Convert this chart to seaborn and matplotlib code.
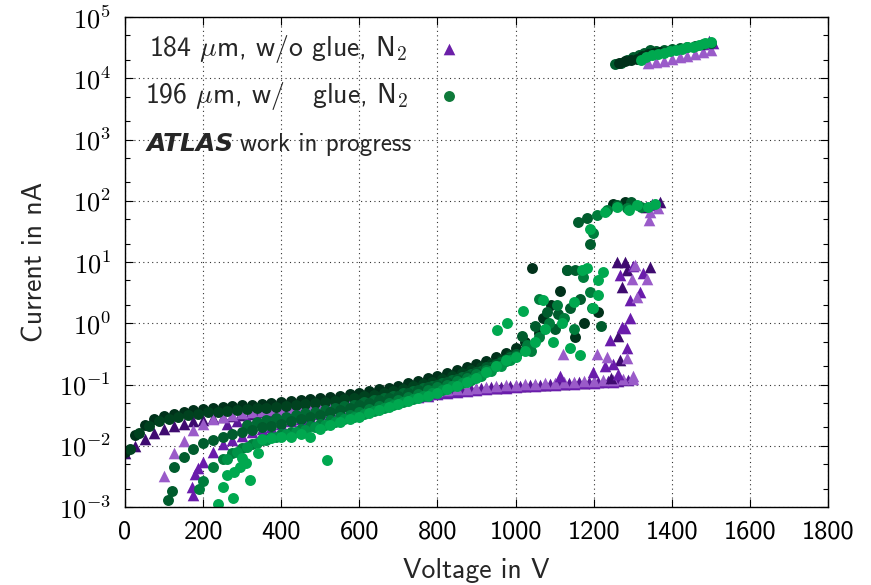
import numpy as np
import seaborn as sns
import matplotlib.pyplot as plt
from matplotlib.ticker import LogLocator, MultipleLocator, NullFormatter, FuncFormatter

# voltage grids (V) used by the main IV runs
V25 = [0, 25, 50, 75, 100, 125, 150, 175, 200, 225, 250, 275, 300, 325, 350, 375,
       400, 425, 450, 475, 500, 525, 550, 575, 600, 625, 650, 675, 700, 725, 750, 775,
       800, 825, 850, 875, 900, 925, 950, 975, 1000, 1025, 1050, 1075, 1100, 1125,
       1150, 1175, 1200, 1225, 1250, 1275, 1300]
VOFF = [12, 37, 62, 87, 112, 137, 162, 187, 212, 237, 262, 287, 312, 337, 362, 387,
        412, 437, 462, 487, 512, 537, 562, 587, 612, 637, 662, 687, 712, 737, 762, 787,
        812, 837, 862, 887, 912, 937, 962, 987, 1012, 1037, 1062, 1087, 1112, 1137,
        1162, 1187, 1212, 1237, 1262, 1287]

# ---- 184 um, w/o glue (triangles) ----
p1_v = V25[0:49]
p1_i = [0.0075, 0.010, 0.013, 0.016, 0.019, 0.021, 0.023, 0.025, 0.026, 0.028,
        0.029, 0.031, 0.032, 0.033, 0.035, 0.036, 0.037, 0.039, 0.040, 0.042,
        0.043, 0.045, 0.047, 0.049, 0.051, 0.053, 0.055, 0.058, 0.060, 0.063,
        0.066, 0.069, 0.072, 0.075, 0.078, 0.081, 0.084, 0.087, 0.089, 0.091,
        0.093, 0.095, 0.097, 0.099, 0.101, 0.103, 0.105, 0.107, 0.109]
p2_v = V25[4:53]
p2_i = [0.0032, 0.0075, 0.012, 0.018, 0.023, 0.027, 0.030, 0.032, 0.034, 0.035,
        0.037, 0.038, 0.039, 0.041, 0.042, 0.044, 0.046, 0.048, 0.050, 0.052,
        0.054, 0.056, 0.059, 0.062, 0.065, 0.068, 0.071, 0.074, 0.077, 0.080,
        0.083, 0.086, 0.089, 0.092, 0.095, 0.097, 0.099, 0.101, 0.103, 0.105,
        0.107, 0.109, 0.111, 0.113, 0.115, 0.117, 0.119, 0.121, 0.123]
p3_v = V25[7:51]
p3_i = [0.0016, 0.0055, 0.0080, 0.0105, 0.0125, 0.0145, 0.0165, 0.0185, 0.0205, 0.0225,
        0.025, 0.027, 0.030, 0.033, 0.036, 0.039, 0.042, 0.045, 0.048, 0.051,
        0.054, 0.057, 0.060, 0.063, 0.066, 0.069, 0.072, 0.075, 0.078, 0.081,
        0.084, 0.087, 0.089, 0.091, 0.093, 0.095, 0.097, 0.099, 0.101, 0.103,
        0.105, 0.107, 0.109, 0.111]
p3_extra_v = [172, 180, 188]
p3_extra_i = [0.0021, 0.0034, 0.0044]
p4_v = VOFF[10:52]
p4_i = [0.023, 0.025, 0.027, 0.029, 0.031, 0.033, 0.035, 0.037, 0.039, 0.041,
        0.043, 0.045, 0.047, 0.049, 0.051, 0.054, 0.057, 0.060, 0.063, 0.066,
        0.069, 0.072, 0.075, 0.078, 0.081, 0.084, 0.087, 0.090, 0.092, 0.094,
        0.096, 0.098, 0.100, 0.102, 0.104, 0.106, 0.108, 0.110, 0.112, 0.114,
        0.116, 0.118]

# breakdown region, by shade
pbd_dark_v = [1267, 1262, 1272, 1285, 1344, 1259, 1280, 1245, 1335, 1370]
pbd_dark_i = [0.25, 0.63, 3.9, 7.5, 8.2, 10.0, 10.0, 0.13, 80, 95]
pbd_mid_v = [1114, 1198, 1250, 1242, 1272, 1285, 1293, 1293, 1318, 1300, 1326, 1267, 1262, 1230, 1280, 1350, 1357]
pbd_mid_i = [0.14, 0.16, 0.22, 0.53, 0.87, 0.39, 1.2, 2.4, 3.2, 8.5, 6.6, 6.2, 0.15, 0.20, 0.83, 90, 85]
pbd_light_v = [1121, 1208, 1234, 1285, 1311, 1298, 1336, 1305, 1300, 1342, 1365, 1345]
pbd_light_i = [0.32, 0.32, 0.28, 0.27, 2.7, 5.2, 5.2, 9.0, 0.14, 48, 76, 65]

# high current run
pt_light_v = [1340, 1360, 1380, 1400, 1420, 1440, 1460, 1480, 1500]
pt_light_i = [1.75e4, 1.85e4, 1.95e4, 2.05e4, 2.2e4, 2.35e4, 2.5e4, 2.7e4, 2.9e4]
pt_dark_v = [1480, 1495, 1505]
pt_dark_i = [3.6e4, 4.0e4, 3.7e4]

# ---- 196 um, w/ glue (circles) ----
g1_v = V25[0:41]
g1_i = [0.0078, 0.015, 0.022, 0.027, 0.031, 0.033, 0.036, 0.038, 0.040, 0.041,
        0.043, 0.044, 0.046, 0.047, 0.048, 0.050, 0.051, 0.053, 0.055, 0.057,
        0.060, 0.062, 0.065, 0.069, 0.074, 0.078, 0.083, 0.089, 0.096, 0.105,
        0.115, 0.127, 0.14, 0.155, 0.17, 0.19, 0.215, 0.245, 0.28, 0.33, 0.40]
g5_v = VOFF[0:40]
g5_i = [0.009, 0.016, 0.021, 0.025, 0.027, 0.030, 0.032, 0.033, 0.035, 0.036,
        0.037, 0.039, 0.040, 0.041, 0.042, 0.043, 0.045, 0.046, 0.048, 0.050,
        0.052, 0.054, 0.057, 0.060, 0.064, 0.068, 0.073, 0.078, 0.085, 0.093,
        0.102, 0.112, 0.124, 0.138, 0.152, 0.170, 0.192, 0.22, 0.25, 0.30]
g7_v = VOFF[12:40]
g7_i = [0.022, 0.024, 0.026, 0.028, 0.030, 0.032, 0.034, 0.036, 0.038, 0.041,
        0.044, 0.047, 0.051, 0.055, 0.060, 0.066, 0.072, 0.079, 0.087, 0.096,
        0.106, 0.118, 0.132, 0.148, 0.168, 0.195, 0.23, 0.28]
g2_v = [110, 120] + V25[5:41]
g2_i = [0.0013, 0.0018,
        0.0045, 0.0065, 0.0088, 0.011, 0.0125, 0.014, 0.0155, 0.017, 0.018, 0.020,
        0.021, 0.023, 0.025, 0.027, 0.029, 0.032, 0.035, 0.038, 0.042, 0.046,
        0.050, 0.055, 0.060, 0.066, 0.072, 0.080, 0.090, 0.10, 0.11, 0.125,
        0.14, 0.16, 0.19, 0.22, 0.26, 0.32]
g3_v = [190] + V25[8:41]
g3_i = [0.0020,
        0.0027, 0.0045, 0.0060, 0.0076, 0.0092, 0.0108, 0.0125, 0.014, 0.0155, 0.017,
        0.019, 0.021, 0.023, 0.026, 0.029, 0.032, 0.036, 0.040, 0.045, 0.050,
        0.056, 0.063, 0.071, 0.080, 0.090, 0.10, 0.115, 0.13, 0.15, 0.17,
        0.20, 0.24, 0.29]
g6_v = VOFF[10:40]
g6_i = [0.0060, 0.0078, 0.0095, 0.011, 0.0125, 0.014, 0.0155, 0.017, 0.018, 0.020,
        0.022, 0.024, 0.027, 0.030, 0.033, 0.037, 0.041, 0.046, 0.052, 0.058,
        0.065, 0.073, 0.082, 0.093, 0.105, 0.12, 0.14, 0.165, 0.20, 0.25]
g4_v = [238, 276, 250, 262, 294, 320, 300, 340, 280, 310, 517] + V25[14:41]
g4_i = [0.0011, 0.0014, 0.0021, 0.0033, 0.0045, 0.0028, 0.0063, 0.0076, 0.0038, 0.0052, 0.0058,
        0.013, 0.0135, 0.0137, 0.014, 0.0155, 0.014, 0.019, 0.022, 0.024, 0.027,
        0.030, 0.034, 0.038, 0.043, 0.048, 0.054, 0.060, 0.066, 0.072, 0.083,
        0.095, 0.11, 0.13, 0.16, 0.20, 0.25, 0.28]

# breakdown region, by shade
gbd1_v = [1025, 1042, 1060, 1070, 1090, 1114, 1131, 1152, 1175, 1210, 1250, 1280]
gbd1_i = [0.5, 8.0, 0.7, 1.2, 2.0, 3.4, 7.3, 0.6, 1.0, 1.5, 90, 95]
gbd2_v = [1016, 1050, 1080, 1100, 1110, 1131, 1140, 1152, 1165, 1160, 1183, 1190, 1220, 1260, 1295]
gbd2_i = [0.63, 0.9, 1.5, 0.8, 1.4, 7.3, 1.8, 7.3, 2.5, 45, 53, 20, 0.9, 85, 95]
gbd3_v = [1030, 1040, 1060, 1060, 1085, 1105, 1125, 1150, 1172, 1190, 1195, 1198, 1208, 1234, 1285, 1320]
gbd3_i = [0.45, 0.35, 0.6, 2.5, 1.0, 2.0, 1.2, 0.8, 5.6, 3.3, 1.8, 30, 58, 70, 75, 80]
gbd4_v = [952, 977, 1019, 1070, 1025, 1050, 1075, 1095, 1120, 1140, 1150, 1165, 1170, 1183,
          1198, 1211, 1211, 1224, 1190, 1230, 1259, 1290, 1311, 1340, 1357]
gbd4_i = [0.78, 1.0, 1.6, 2.4, 0.35, 0.5, 0.8, 0.5, 1.0, 0.4, 2.2, 0.3, 7.3, 8.0,
          1.8, 5.0, 2.9, 6.8, 34, 65, 80, 70, 85, 80, 88]

# high current run
gt1_v = [1255, 1270, 1285, 1300, 1315, 1330, 1345, 1360, 1380, 1400, 1420, 1440, 1460, 1480, 1500]
gt1_i = [1.7e4, 1.8e4, 2.0e4, 2.2e4, 2.4e4, 2.6e4, 2.9e4, 2.8e4, 2.9e4, 3.0e4, 3.1e4, 3.2e4, 3.4e4, 3.6e4, 3.8e4]
gt2_v = [1265, 1280, 1295, 1310, 1325, 1340, 1355, 1370]
gt2_i = [1.75e4, 1.9e4, 2.0e4, 2.1e4, 2.3e4, 2.5e4, 2.6e4, 2.7e4]
gt3_v = [1320, 1335, 1350, 1365, 1380, 1395, 1410, 1425, 1440, 1455, 1470, 1485, 1500]
gt3_i = [2.0e4, 2.2e4, 2.4e4, 2.5e4, 2.6e4, 2.8e4, 2.9e4, 3.0e4, 3.2e4, 3.3e4, 3.5e4, 3.7e4, 3.9e4]

legend_labels = [r'184 $\mu$m, w/o glue, N$_\mathsf{2}$', r'196 $\mu$m, w/   glue, N$_\mathsf{2}$']

# colours
pur_dark, pur_mid, pur_light, pur_4 = '#3f0b70', '#6a1cab', '#9a5bc9', '#5a1696'
grn_0, grn_1, grn_2, grn_3 = '#00311a', '#005c2d', '#007d3c', '#00a84f'
grn_5, grn_6, grn_7 = '#00421f', '#009347', '#006b34'

sns.set_theme(style="ticks")
plt.rcParams['font.family'] = ['cmss10', 'DejaVu Sans']
plt.rcParams['mathtext.fontset'] = 'cm'

fig = plt.figure(figsize=(8.71, 5.85), dpi=100)
ax = fig.add_axes([0.1435, 0.1333, 0.8071, 0.8376])

tri = dict(marker='^', s=70, linewidth=0, ax=ax, legend=False)
dot = dict(marker='o', s=62, linewidth=0, ax=ax, legend=False)

# purple first, green on top
sns.scatterplot(x=p1_v, y=p1_i, color=pur_dark, **tri)
sns.scatterplot(x=p4_v, y=p4_i, color=pur_4, **tri)
sns.scatterplot(x=p3_v, y=p3_i, color=pur_mid, **tri)
sns.scatterplot(x=p2_v, y=p2_i, color=pur_light, **tri)
sns.scatterplot(x=p3_extra_v, y=p3_extra_i, color=pur_mid, **tri)
sns.scatterplot(x=pbd_dark_v, y=pbd_dark_i, color=pur_dark, **tri)
sns.scatterplot(x=pbd_mid_v, y=pbd_mid_i, color=pur_mid, **tri)
sns.scatterplot(x=pbd_light_v, y=pbd_light_i, color=pur_light, **tri)
sns.scatterplot(x=pt_light_v, y=pt_light_i, color=pur_light, **tri)
sns.scatterplot(x=pt_dark_v, y=pt_dark_i, color=pur_mid, **tri)

sns.scatterplot(x=g1_v, y=g1_i, color=grn_0, **dot)
sns.scatterplot(x=g5_v, y=g5_i, color=grn_5, **dot)
sns.scatterplot(x=g7_v, y=g7_i, color=grn_7, **dot)
sns.scatterplot(x=g2_v, y=g2_i, color=grn_1, **dot)
sns.scatterplot(x=g3_v, y=g3_i, color=grn_2, **dot)
sns.scatterplot(x=g6_v, y=g6_i, color=grn_6, **dot)
sns.scatterplot(x=g4_v, y=g4_i, color=grn_3, **dot)
sns.scatterplot(x=gbd1_v, y=gbd1_i, color=grn_0, **dot)
sns.scatterplot(x=gbd2_v, y=gbd2_i, color=grn_1, **dot)
sns.scatterplot(x=gbd3_v, y=gbd3_i, color=grn_2, **dot)
sns.scatterplot(x=gbd4_v, y=gbd4_i, color=grn_3, **dot)
sns.scatterplot(x=gt1_v, y=gt1_i, color=grn_1, **dot)
sns.scatterplot(x=gt2_v, y=gt2_i, color=grn_0, **dot)
sns.scatterplot(x=gt3_v, y=gt3_i, color=grn_3, **dot)

# legend proxies
h1 = ax.scatter([], [], marker='^', s=70, linewidth=0, color='#6b1fa8')
h2 = ax.scatter([], [], marker='o', s=62, linewidth=0, color='#0f7a3a')
leg = ax.legend([h1, h2], legend_labels,
                loc='upper left', bbox_to_anchor=(0.012, 0.99), frameon=False,
                markerfirst=False, fontsize=20, handlelength=1.0, handletextpad=1.0,
                labelspacing=0.55, borderaxespad=0, scatterpoints=1)

t1 = ax.text(0.031, 0.74, 'ATLAS', transform=ax.transAxes, fontsize=18,
             fontweight='bold', fontstyle='italic', family='DejaVu Sans', va='center')
ax.annotate('work in progress', xy=(1, 0.5), xycoords=t1, xytext=(4, 0),
            textcoords='offset points', fontsize=18, va='center')

ax.set_yscale('log')
ax.set_xlim(0, 1800)
ax.set_ylim(1e-3, 1e5)
ax.xaxis.set_major_locator(MultipleLocator(200))
ax.yaxis.set_major_locator(LogLocator(base=10, numticks=20))
ax.yaxis.set_major_formatter(FuncFormatter(lambda v, p: r'$\mathsf{10^{%d}}$' % round(np.log10(v))))
ax.yaxis.set_minor_locator(LogLocator(base=10, subs=(2, 5), numticks=20))
ax.yaxis.set_minor_formatter(NullFormatter())
ax.tick_params(which='both', direction='in', top=True, right=True, colors='black')
ax.tick_params(which='major', length=6, width=0.8, labelsize=19, pad=10)
ax.tick_params(which='minor', length=3.5, width=0.8)
ax.grid(True, which='major', color='#333333', linestyle=(0, (1, 3)), linewidth=0.8)
for sp in ax.spines.values():
    sp.set_color('black')
    sp.set_linewidth(1.0)

ax.set_xlabel('Voltage in V', fontsize=20, labelpad=10)
ax.set_ylabel('Current in nA', fontsize=20, labelpad=8)

fig.savefig('out.png', dpi=100)
